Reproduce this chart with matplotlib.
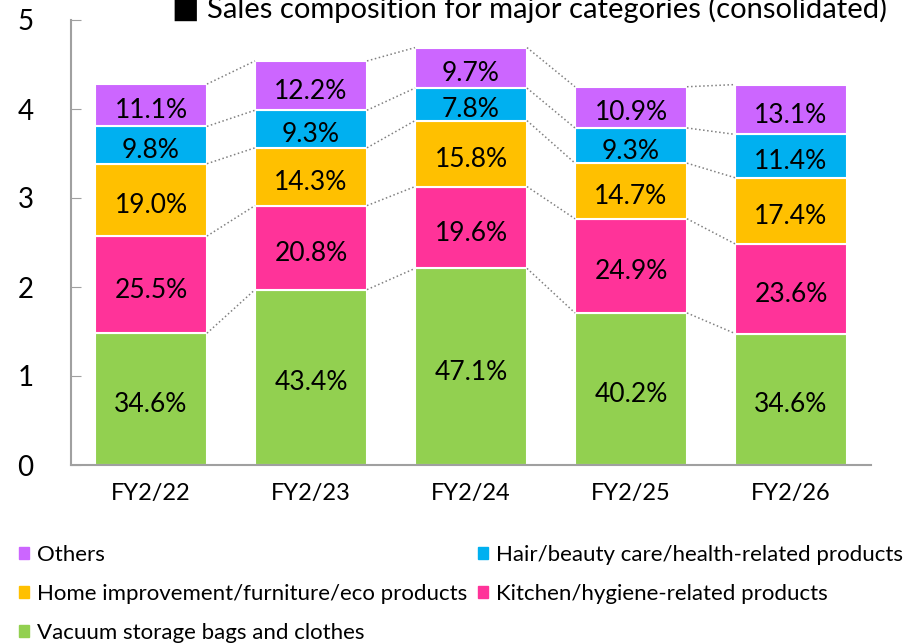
import matplotlib.pyplot as plt
import numpy as np
from matplotlib.patches import Patch

plt.rcParams['font.family'] = ['Lato', 'DejaVu Sans']

years = ['FY2/22', 'FY2/23', 'FY2/24', 'FY2/25', 'FY2/26']
totals = [4.28, 4.54, 4.69, 4.25, 4.27]

# shares (%) from bottom to top
vacuum = [34.6, 43.4, 47.1, 40.2, 34.6]
kitchen = [25.5, 20.8, 19.6, 24.9, 23.6]
home = [19.0, 14.3, 15.8, 14.7, 17.4]
hair = [9.8, 9.3, 7.8, 9.3, 11.4]
others = [11.1, 12.2, 9.7, 10.9, 13.1]

names = ['Vacuum storage bags and clothes', 'Kitchen/hygiene-related products',
         'Home improvement/furniture/eco products',
         'Hair/beauty care/health-related products', 'Others']
colors = ['#92D050', '#FF3399', '#FFC000', '#00B0F0', '#CC66FF']
shares = [vacuum, kitchen, home, hair, others]

fig = plt.figure(figsize=(9.04, 6.43), dpi=100)
ax = fig.add_axes([71 / 904, 1 - 465 / 643, 800 / 904, 445 / 643])

x = np.arange(len(years))
width = 0.7
bottom = np.zeros(len(years))
tops = []
for name, color, share in zip(names, colors, shares):
    share = np.array(share)
    h = share / 100 * np.array(totals)
    ax.bar(x, h, width, bottom=bottom, color=color, edgecolor='white',
           linewidth=1.5, label=name)
    for xi, b, hi, s in zip(x, bottom, h, share):
        ax.annotate(f'{s:.1f}%', (xi, b + hi / 2), xytext=(0, -4),
                    textcoords='offset points', ha='center', va='center',
                    fontsize=19)
    bottom = bottom + h
    tops.append(bottom.copy())

# dotted connector lines between bars
for level in tops:
    for i in range(len(years) - 1):
        ax.plot([x[i] + width / 2, x[i + 1] - width / 2], [level[i], level[i + 1]],
                color='#808080', linestyle=':', linewidth=1.1)

ax.set_xlim(-0.5, len(years) - 0.5)
ax.set_ylim(0, 5)
ax.set_yticks(range(6))
ax.set_xticks(x)
ax.set_xticklabels(years)
ax.tick_params(axis='y', direction='in', length=7, color='#A0A0A0',
               labelsize=20, pad=27)
ax.tick_params(axis='x', length=0, labelsize=17, pad=13)
for s in ['top', 'right']:
    ax.spines[s].set_visible(False)
for s in ['left', 'bottom']:
    ax.spines[s].set_color('#A0A0A0')
    ax.spines[s].set_linewidth(1.5)

fig.text(529 / 904, 1 - 18 / 643,
         '\u25A0 Sales composition for major categories (consolidated)',
         ha='center', va='baseline', fontsize=21)

order = [4, 2, 0, 3, 1]
handles = [Patch(color=colors[i]) for i in order]
labels = [names[i] for i in order]
fig.legend(handles, labels, loc='upper left', bbox_to_anchor=(10 / 904, 1 - 536 / 643),
           ncol=2, frameon=False, fontsize=16, handlelength=0.45, handleheight=0.45,
           handletextpad=0.35, columnspacing=0.5, labelspacing=0.86, borderaxespad=0)

fig.savefig('out.png', dpi=100)
